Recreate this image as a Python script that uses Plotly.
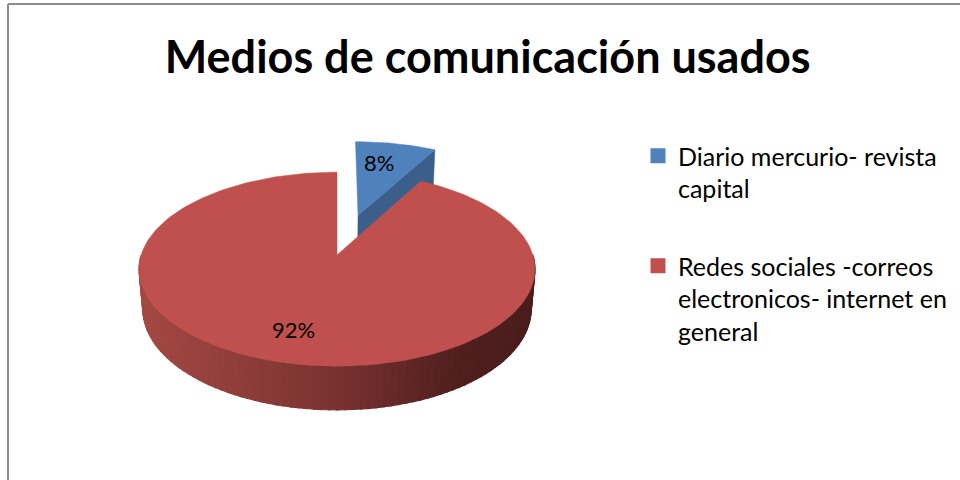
import numpy as np
import plotly.graph_objects as go

# ---- data ----
categories = ["Diario mercurio- revista<br>capital",
              "Redes sociales -correos<br>electronicos- internet en<br>general"]
values = [8, 92]
labels_pct = ["8%", "92%"]
colors_top = ["#4F81BD", "#C0504D"]
colors_side = ["#3B5E8B", "#8E3A37"]
explode = [0.46, 0.0]
title_text = "Medios de comunicación usados"

# ---- 3D pie geometry (projection) ----
CX, CY = 337, 255          # screen position of pie centre
F, D = 1175.0, 6.0         # focal length, camera distance
PHI = np.radians(29)       # elevation
H = 0.235                  # thickness
sphi, cphi = np.sin(PHI), np.cos(PHI)


def proj(u, v, z):
    u = np.asarray(u, float); v = np.asarray(v, float); z = np.asarray(z, float)
    yc = v * sphi + z * cphi
    d = D + v * cphi - z * sphi
    return CX + F * u / d, CY - F * yc / d


fig = go.Figure()

total = sum(values)
start = 90.0
slices = []
for i, val in enumerate(values):
    sweep = 360.0 * val / total
    a0, a1 = start - sweep, start          # clockwise from 12 o'clock
    mid = np.radians((a0 + a1) / 2)
    ou, ov = explode[i] * np.cos(mid), explode[i] * np.sin(mid)
    slices.append((a0, a1, ou, ov, mid))
    start = a0


def add_poly(xs, ys, color, lw=0.5):
    fig.add_trace(go.Scatter(x=list(xs) + [xs[0]], y=list(ys) + [ys[0]], mode="lines",
                             fill="toself", fillcolor=color,
                             line=dict(color=color, width=lw),
                             hoverinfo="skip", showlegend=False))


def lerp_col(t):
    stops = [(0.0, (166, 73, 68)), (0.5, (121, 50, 48)), (0.8, (80, 31, 30)), (1.0, (74, 29, 28))]
    for (t0, c0), (t1, c1) in zip(stops[:-1], stops[1:]):
        if t <= t1:
            k = (t - t0) / (t1 - t0)
            c = [c0[j] + k * (c1[j] - c0[j]) for j in range(3)]
            return "rgb(%d,%d,%d)" % tuple(int(round(x)) for x in c)
    return "rgb(%d,%d,%d)" % stops[-1][1]


for i in [0, 1]:
    a0, a1, ou, ov, mid = slices[i]
    if i == 0:
        # visible radial face of the exploded slice
        th = np.radians(a0)
        uu = [ou, ou + np.cos(th), ou + np.cos(th), ou]
        vv = [ov, ov + np.sin(th), ov + np.sin(th), ov]
        zz = [0, 0, -H, -H]
        x, y = proj(uu, vv, zz)
        add_poly(x, y, colors_side[0])
    if i == 1:
        # outer rim, front half, gradient strips
        n = 90
        ths = np.radians(np.linspace(180, 360, n + 1))
        for k in range(n):
            t0, t1 = ths[k], ths[k + 1] + 0.004
            uu = [np.cos(t0), np.cos(t1), np.cos(t1), np.cos(t0)]
            vv = [np.sin(t0), np.sin(t1), np.sin(t1), np.sin(t0)]
            zz = [0, 0, -H, -H]
            x, y = proj(uu, vv, zz)
            xm = float(np.mean(x))
            t = min(max((xm - 138) / (535 - 138), 0), 1)
            add_poly(x, y, lerp_col(t), lw=1.2)
    # top face
    ang = np.radians(np.linspace(a0, a1, 200))
    uu = np.concatenate([[ou], ou + np.cos(ang)])
    vv = np.concatenate([[ov], ov + np.sin(ang)])
    x, y = proj(uu, vv, np.zeros_like(uu))
    add_poly(x, y, colors_top[i])

# data labels
label_r = [0.71, 0.73]
label_dx = [-7, -4]
for i in range(len(values)):
    a0, a1, ou, ov, mid = slices[i]
    lx, ly = proj(ou + label_r[i] * np.cos(mid), ov + label_r[i] * np.sin(mid), 0)
    fig.add_annotation(x=float(lx) + label_dx[i], y=float(ly), text=labels_pct[i], showarrow=False,
                       font=dict(family="Lato", size=22, color="#000000"))

# legend entries
for i, cat in enumerate(categories):
    fig.add_trace(go.Scatter(x=[None], y=[None], mode="markers", name=cat,
                             legendgroup=str(i),
                             marker=dict(symbol="square", size=15, color=colors_top[i])))

# frame lines
fig.add_shape(type="line", x0=8, y0=480, x1=8, y1=4, line=dict(color="#8C8C8C", width=2))
fig.add_shape(type="line", x0=8, y0=4, x1=960, y1=4, line=dict(color="#8C8C8C", width=2))

fig.update_layout(
    width=960, height=480,
    margin=dict(l=0, r=0, t=0, b=0),
    paper_bgcolor="white", plot_bgcolor="white",
    xaxis=dict(range=[0, 960], visible=False, fixedrange=True),
    yaxis=dict(range=[480, 0], visible=False, fixedrange=True),
    title=dict(text="<b>" + title_text + "</b>", x=0.508, xanchor="center",
               y=1 - 57 / 480, yanchor="middle",
               font=dict(family="Lato", size=45, color="#000000")),
    legend=dict(x=638 / 960, y=1 - 133 / 480, xanchor="left", yanchor="top",
                font=dict(family="Lato", size=25, color="#000000"),
                valign="top", tracegroupgap=42, traceorder="grouped",
                bgcolor="rgba(0,0,0,0)"),
    showlegend=True,
)

fig.write_html("out.html")
